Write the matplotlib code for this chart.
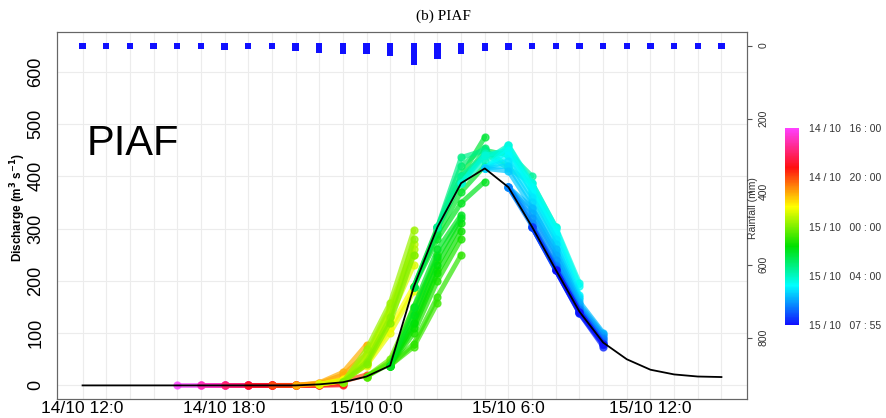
import matplotlib
matplotlib.use("Agg")
import matplotlib.pyplot as plt
import numpy as np
from matplotlib.colors import LinearSegmentedColormap, Normalize
from matplotlib.cm import ScalarMappable

plt.rcParams['font.family'] = ['Liberation Sans', 'DejaVu Sans']

# hours since 14/10 12:00
hours = list(range(28))
discharge_obs = [0, 0, 0, 0, 0, 0, 0, 0, 0, 0, 2, 6, 17, 38, 189, 303, 387, 415,
                 379, 303, 221, 141, 82, 50, 30, 21, 17, 16]
rain_mm = [0.5, 0.5, 0.5, 0.5, 0.5, 0.5, 3, 0.5, 0.5, 7, 12, 16, 15, 22, 44, 30,
           16, 8, 3, 1, 0.5, 0.5, 0.5, 0.5, 0.5, 0.5, 0.5, 0.5]

# forecasts: issue time (h), first hour, predicted discharge per hour
fc_issue = [4.0, 4.5, 5.0, 5.5, 6.0, 6.5, 7.0, 7.5, 8.0, 8.5, 9.0, 9.3,
            10.2, 10.4, 10.6, 10.8, 11.0, 11.2, 11.4, 11.6, 11.8, 12.0, 12.2, 12.4, 12.6,
            12.8, 13.0, 13.2, 13.4, 13.6, 13.8, 14.0,
            13.9, 14.05, 14.2, 14.6, 14.9, 15.2, 15.5,
            15.8, 16.0, 16.2, 16.4, 16.6, 16.8, 17.0, 17.2, 17.4, 17.6,
            17.8, 18.0, 18.2, 18.4, 18.6, 18.8, 19.0, 19.3, 19.6, 19.92]
fc_start = [4, 5, 5, 6, 6, 7, 7, 8, 8, 9, 9, 9,
            10, 10, 10, 10, 11, 11, 11, 11, 11, 11, 12, 12, 12,
            13, 13, 13, 13, 13, 13, 13,
            14, 14, 14, 14, 15, 15, 15,
            16, 16, 16, 17, 17, 17, 17, 17, 17, 18,
            18, 18, 18, 18, 19, 19, 19, 19, 20, 20]
fc_values = [
    [0, 0, 0, 0], [0, 0, 0, 0], [0, 0, 0, 0], [0, 0, 0, 0],
    [0, 0, 0, 0], [0, 0, 0, 0], [0, 0, 0, 0, 1], [0, 0, 1, 3],
    [0, 0, 2, 8, 20], [0, 3, 12, 40], [0, 4, 20, 60], [0, 5, 25, 78],
    # yellow / yellow-green, rising too early
    [2, 12, 45, 120], [2, 10, 40, 110, 190], [2, 9, 38, 100, 180],
    [2, 9, 45, 130, 230], [6, 50, 140, 250], [6, 60, 150, 270],
    [6, 55, 145, 260], [6, 69, 158, 297], [6, 45, 130, 280],
    [6, 40, 120, 250], [17, 50, 150, 240], [17, 45, 140, 250], [17, 42, 120, 220],
    # green, rising too late
    [38, 74, 158], [38, 80, 170, 250], [38, 100, 200, 280], [38, 110, 215, 295],
    [38, 120, 230, 310], [38, 135, 245, 320], [38, 150, 260, 326],
    # green-teal, around the peak
    [189, 280, 349, 390], [189, 290, 370, 420], [189, 303, 400, 475],
    [189, 300, 390, 450, 440], [303, 420, 455], [303, 436, 450, 420],
    [303, 400, 440, 445, 400],
    # cyan, recession
    [387, 444, 415, 387, 303], [387, 430, 459, 380, 290], [387, 440, 450, 370, 280],
    [415, 459, 387, 303, 196], [415, 450, 380, 300, 190], [415, 440, 370, 290, 173],
    [415, 430, 360, 280, 170], [415, 420, 350, 270, 165], [415, 410, 340, 255, 150],
    [379, 340, 260, 160, 101],
    # blue
    [379, 330, 250, 155, 98], [379, 320, 240, 150, 95], [379, 310, 230, 145, 90],
    [379, 305, 228, 146, 88], [303, 225, 145, 85], [303, 222, 140, 80],
    [303, 221, 141, 82], [303, 220, 138, 78], [221, 138, 74], [221, 141, 80],
]

xtick_pos = [0, 6, 12, 18, 24]
xtick_labels = ['14/10 12:0', '14/10 18:0', '15/10 0:0', '15/10 6:0', '15/10 12:0']
cbar_pos = [4, 8, 12, 16, 19.92]
cbar_labels = ['14 / 10   16 : 00', '14 / 10   20 : 00', '15 / 10   00 : 00',
               '15 / 10   04 : 00', '15 / 10   07 : 55']

cmap = LinearSegmentedColormap.from_list(
    'fc', ['#ff40ff', '#ff1010', '#ffff00', '#00e000', '#00ffff', '#1010ff'])
norm = Normalize(min(fc_issue), max(fc_issue))

fig = plt.figure(figsize=(8.86, 4.18), dpi=100)
ax = fig.add_axes([57/886, 1 - 399/418, 690/886, 367/418])
ax2 = ax.twinx()

# grid
ax.set_xticks(hours, minor=True)
ax.grid(True, which='both', axis='x', color='#ececec', lw=0.8)
ax.grid(True, which='major', axis='y', color='#ececec', lw=0.8)
ax.set_axisbelow(True)

for T, s, vals in zip(fc_issue, fc_start, fc_values):
    xs = np.arange(s, s + len(vals))
    ax.plot(xs, vals, '-o', color=cmap(norm(T)), lw=3.5, ms=5, alpha=0.7,
            solid_capstyle='round', solid_joinstyle='round')

ax.plot(hours, discharge_obs, color='black', lw=1.3, zorder=5)

ax.set_xlim(-1.08, 28.08)
ax.set_ylim(-26, 676)
ax.set_xticks(xtick_pos)
ax.set_xticklabels(xtick_labels)
ax.set_yticks(range(0, 700, 100))
ax.tick_params(axis='x', which='both', length=0, labelsize=12.5, pad=1.5)
ax.tick_params(axis='y', length=0, labelsize=13, pad=9, labelrotation=90)
for lab in ax.get_yticklabels():
    lab.set_va('center')

# rainfall on the inverted right axis, bars padded by a small square cap
cap = 8
ax2.bar(hours, [r + 2 * cap for r in rain_mm], bottom=-cap, width=0.27,
        color='#1010ff', linewidth=0)
ax2.set_ylim(968, -37)
ax2.set_yticks(range(0, 1000, 200))
ax2.tick_params(axis='y', length=3.5, labelsize=7.5, pad=5, labelrotation=90,
                color='#555555', labelcolor='#333333')
for lab in ax2.get_yticklabels():
    lab.set_va('center')

for a in (ax, ax2):
    for sp in a.spines.values():
        sp.set_color('#666666')
        sp.set_linewidth(0.8)

ax.text(30/690, 244/367, 'PIAF', transform=ax.transAxes, fontsize=30, va='baseline')
fig.text(0.5, 1 - 16/418, '(b) PIAF', ha='center', va='center', fontsize=11,
         family='Liberation Serif')
fig.text(18/886, 1 - 208/418, r'Discharge (m$^{\mathbf{3}}$ s$^{\mathbf{-1}}$)',
         rotation=90, ha='center', va='center', fontsize=8.5, fontweight='bold')
fig.text(753/886, 1 - 208/418, 'Rainfall (mm)', rotation=90, ha='center',
         va='center', fontsize=7.5, color='#333333')

cax = fig.add_axes([785/886, 1 - 325/418, 14/886, 197/418])
sm = ScalarMappable(norm=norm, cmap=cmap)
cb = fig.colorbar(sm, cax=cax)
cb.outline.set_visible(False)
cax.invert_yaxis()
cb.set_ticks(cbar_pos)
cb.set_ticklabels(cbar_labels)
cax.tick_params(length=0, labelsize=7.5, pad=7, labelcolor='#333333')

fig.savefig('out.png', dpi=100)
